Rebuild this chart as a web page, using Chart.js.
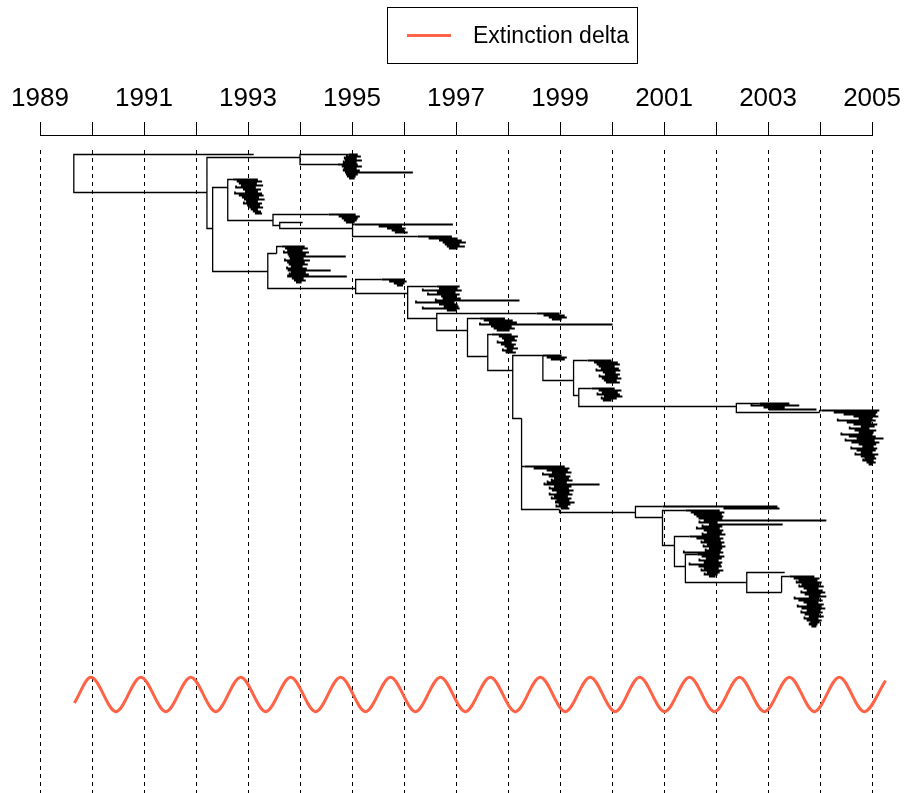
<!DOCTYPE html>
<html lang="en">
<head>
<meta charset="UTF-8">
<title>Dated tree with extinction delta</title>
<script src="https://cdn.jsdelivr.net/npm/chart.js@4.4.1/dist/chart.umd.min.js"></script>
<style>
  html, body { margin: 0; padding: 0; background: #fff; }
  canvas { display: block; }
</style>
</head>
<body>
<canvas id="treeChart" width="909" height="793"></canvas>
<script>
// Time axis: a tick every year, a label every other year
const yearTicks = [1989, 1990, 1991, 1992, 1993, 1994, 1995, 1996, 1997, 1998, 1999, 2000, 2001, 2002, 2003, 2004, 2005];
const labelledYears = [1989, 1991, 1993, 1995, 1997, 1999, 2001, 2003, 2005];

// Extinction delta: turning points of the oscillation
const deltaYears = [1989.66, 1989.98, 1990.46, 1990.94, 1991.42, 1991.90, 1992.38, 1992.86, 1993.34, 1993.82,
  1994.30, 1994.78, 1995.26, 1995.74, 1996.22, 1996.70, 1997.18, 1997.66, 1998.14, 1998.62, 1999.10, 1999.58,
  2000.06, 2000.53, 2001.01, 2001.49, 2001.97, 2002.45, 2002.93, 2003.41, 2003.89, 2004.37, 2004.85, 2005.26];
const deltaValues = [-0.5, 1, -1, 1, -1, 1, -1, 1, -1, 1, -1, 1, -1, 1, -1, 1, -1, 1, -1, 1, -1, 1,
  -1, 1, -1, 1, -1, 1, -1, 1, -1, 1, -1, 0.8];

// Internal nodes and lone tips: [id, parent, year, row]
const backbone = [
  ['root', null, 1989.65, 9.5],
  ['t1993', 'root', 1993.11, 0],
  ['A', 'root', 1992.21, 19],
  ['B', 'A', 1994.00, 1.5],
  ['C', 'A', 1992.32, 37],
  ['D', 'C', 1992.61, 16.5],
  ['F', 'D', 1993.48, 33],
  ['G', 'F', 1993.61, 35.5],
  ['t1994', 'G', 1994.05, 34],
  ['H', 'G', 1995.01, 37],
  ['I0', 'C', 1993.38, 58.5],
  ['I1', 'I0', 1993.55, 49.5],
  ['J', 'I0', 1995.07, 67],
  ['L', 'J', 1996.07, 69.5],
  ['M', 'L', 1996.63, 82],
  ['O', 'M', 1997.22, 88],
  ['Q0', 'O', 1997.61, 101],
  ['Q1', 'Q0', 1998.09, 108],
  ['S', 'Q1', 1998.67, 100.5],
  ['R', 'S', 1999.26, 113],
  ['R2', 'R', 1999.36, 120.5],
  ['U', 'R2', 2002.39, 126],
  ['W', 'U', 2003.99, 129],
  ['Y0', 'Q1', 1998.26, 132],
  ['Y1', 'Y0', 1998.99, 177.5],
  ['Z', 'Y1', 2000.45, 179],
  ['AA', 'Z', 2000.97, 181.5],
  ['AB', 'AA', 2001.20, 195.5],
  ['AC', 'AB', 2001.41, 206],
  ['CC', 'AC', 2002.59, 214],
  ['t2003', 'CC', 2003.32, 209],
  ['DD', 'CC', 2003.26, 219]
];

// Sampled clades, one tip per row: [branch year, tip year]
const tipsB1 = [[1994.94, 1995.11], [1994.90, 1995.17], [1994.86, 1995.09], [1994.88, 1995.19], [1994.84, 1995.09]];
const tipsB2 = [[1994.73, 1995.11], [1994.82, 1995.19], [1994.86, 1995.09], [1994.84, 1995.15], [1994.88, 1996.17],
  [1994.90, 1995.11], [1994.92, 1995.07], [1994.96, 1995.05]];
const tipsD = [[1992.71, 1993.19], [1992.80, 1993.27], [1992.84, 1993.17], [1992.88, 1993.29], [1992.77, 1993.15],
  [1992.92, 1993.25], [1992.96, 1993.19], [1992.75, 1993.27], [1992.84, 1993.30], [1992.90, 1993.21],
  [1992.94, 1993.32], [1992.98, 1993.19], [1992.92, 1993.27], [1993.00, 1993.23], [1993.04, 1993.29],
  [1993.07, 1993.19], [1993.11, 1993.25], [1993.15, 1993.27]];
const tipsE = [[1994.55, 1995.07], [1994.76, 1995.15], [1994.82, 1995.11], [1994.86, 1995.09], [1994.90, 1995.05]];
const tipsG = [[1995.05, 1996.94], [1995.53, 1995.96], [1995.69, 1996.03], [1995.78, 1996.00], [1995.84, 1996.07]];
const tipsH = [[1996.26, 1996.92], [1996.49, 1997.03], [1996.69, 1997.11], [1996.76, 1997.19], [1996.80, 1997.07],
  [1996.84, 1997.17], [1996.88, 1997.03]];
const tipsI = [[1993.65, 1994.09], [1993.73, 1994.15], [1993.77, 1994.05], [1993.69, 1994.17], [1993.78, 1994.11],
  [1993.80, 1994.88], [1993.82, 1994.07], [1993.71, 1994.19], [1993.77, 1994.09], [1993.80, 1994.15],
  [1993.84, 1994.05], [1993.75, 1994.13], [1993.78, 1994.59], [1993.84, 1994.11], [1993.80, 1994.17],
  [1993.77, 1994.90], [1993.86, 1994.07], [1993.90, 1994.11], [1993.94, 1994.03]];
const tipsK = [[1995.57, 1996.00], [1995.73, 1996.05], [1995.82, 1996.01], [1995.88, 1995.98]];
const tipsM = [[1996.63, 1997.07], [1996.69, 1997.03], [1996.36, 1997.11], [1996.65, 1996.99], [1996.46, 1997.07],
  [1996.73, 1997.01], [1996.76, 1997.09], [1996.61, 1998.22], [1996.23, 1996.97], [1996.69, 1997.03],
  [1996.78, 1997.05], [1996.36, 1997.07], [1996.84, 1997.01]];
const tipsN = [[1998.55, 1998.99], [1998.70, 1999.09], [1998.80, 1999.13], [1998.86, 1999.03]];
const tipsP = [[1997.46, 1997.94], [1997.55, 1998.09], [1997.65, 1998.17], [1997.46, 2000.01], [1997.69, 1998.07],
  [1997.74, 1998.13], [1997.80, 1998.03]];
const tipsQ = [[1997.69, 1998.07], [1997.84, 1998.19], [1997.90, 1998.13], [1997.94, 1998.17], [1997.80, 1998.07],
  [1997.88, 1998.15], [1997.95, 1998.11], [1997.99, 1998.19], [1997.90, 1998.09], [1997.97, 1998.15]];
const tipsS1 = [[1998.67, 1999.03], [1998.76, 1999.13], [1998.84, 1999.09]];
const tipsS = [[1999.53, 1999.99], [1999.67, 2000.11], [1999.72, 2000.15], [1999.76, 2000.05], [1999.80, 2000.13],
  [1999.70, 2000.16], [1999.84, 2000.07], [1999.88, 2000.15], [1999.76, 2000.11], [1999.82, 2000.18],
  [1999.86, 2000.09], [1999.90, 2000.15]];
const tipsT = [[1999.61, 2000.05], [1999.76, 2000.18], [1999.82, 2000.11], [1999.72, 2000.15], [1999.86, 2000.20],
  [1999.80, 2000.09], [1999.84, 1999.99]];
const tipsV = [[2002.84, 2003.41], [2002.68, 2003.60], [2002.93, 2003.32], [2003.03, 2003.93]];
const tipsX = [[2004.03, 2005.14], [2004.28, 2005.10], [2004.47, 2005.07], [2004.66, 2005.12], [2004.76, 2005.01],
  [2004.34, 2005.07], [2004.53, 2004.99], [2004.66, 2005.10], [2004.80, 2005.05], [2004.57, 2004.95],
  [2004.68, 2005.08], [2004.76, 2005.03], [2004.41, 2005.01], [2004.57, 2005.07], [2004.72, 2005.22],
  [2004.49, 2005.05], [2004.62, 2005.14], [2004.76, 2005.08], [2004.83, 2005.03], [2004.60, 2005.10],
  [2004.72, 2005.07], [2004.80, 2005.01], [2004.68, 2005.12], [2004.80, 2005.05], [2004.87, 2005.08],
  [2004.83, 2005.03], [2004.91, 2005.07], [2004.95, 2005.01]];
const tipsY = [[1998.32, 1999.09], [1998.51, 1999.18], [1998.76, 1999.15], [1998.86, 1999.22], [1998.67, 1999.11],
  [1998.80, 1999.20], [1998.90, 1999.17], [1998.84, 1999.24], [1998.76, 1999.13], [1998.70, 1999.76],
  [1998.90, 1999.22], [1998.80, 1999.17], [1998.86, 1999.26], [1998.95, 1999.18], [1998.80, 1999.24],
  [1998.90, 1999.15], [1998.84, 1999.22], [1998.95, 1999.18], [1998.92, 1999.28], [1998.99, 1999.20],
  [1998.93, 1999.15], [1999.03, 1999.18]];
const tipsZ = [[2000.97, 2003.18], [2002.16, 2003.22]];
const tipsBBa = [[2001.41, 2002.07], [2001.53, 2002.16], [2001.59, 2002.11], [2001.64, 2002.14], [2001.68, 2002.12],
  [2001.78, 2004.12], [2001.68, 2002.03], [2001.88, 2003.28], [2001.74, 2002.12], [2001.63, 2002.07],
  [2001.78, 2002.14], [2001.84, 2002.11], [2001.74, 2002.18]];
const tipsBBb = [[2001.49, 2002.07], [2001.64, 2002.14], [2001.78, 2002.09], [2001.72, 2002.16], [2001.84, 2002.11],
  [2001.76, 2002.18], [2001.88, 2002.12], [2001.80, 2002.09], [2001.38, 2002.14]];
const tipsBBc = [[2001.64, 2002.07], [2001.74, 2002.16], [2001.82, 2002.11], [2001.68, 2002.05], [2001.78, 2002.12],
  [2001.49, 2002.09], [2001.68, 2002.11], [2001.78, 2002.05], [2001.72, 2002.14], [2001.84, 2002.07],
  [2001.78, 2002.03], [2001.88, 2001.99]];
const tipsEE = [[2003.41, 2003.89], [2003.51, 2003.99], [2003.60, 2003.95], [2003.55, 2004.03], [2003.66, 2003.99],
  [2003.60, 2004.07], [2003.70, 2003.97], [2003.76, 2004.05], [2003.64, 2004.10], [2003.72, 2004.01],
  [2003.80, 2004.12], [2003.51, 2003.99], [2003.60, 2004.05], [2003.70, 2003.97], [2003.76, 2004.07],
  [2003.57, 2004.03], [2003.66, 2004.10], [2003.76, 2004.01], [2003.64, 2004.05], [2003.72, 2003.99],
  [2003.80, 2004.07], [2003.70, 2003.97], [2003.76, 2004.03], [2003.83, 2003.99], [2003.80, 2003.95],
  [2003.85, 2003.93]];

// Where each clade hangs: [parent node, row of its first tip, tips]
const cladeAnchors = [
  ['B', 0, tipsB1], ['B', 5, tipsB2], ['D', 12.5, tipsD], ['F', 30, tipsE], ['H', 35, tipsG],
  ['H', 41, tipsH], ['I1', 46, tipsI], ['J', 62.5, tipsK], ['L', 66, tipsM], ['M', 79.5, tipsN],
  ['O', 82, tipsP], ['Q0', 90, tipsQ], ['S', 100.5, tipsS1], ['R', 103, tipsS], ['R2', 117, tipsT],
  ['U', 124.5, tipsV], ['W', 128, tipsX], ['Y0', 156, tipsY], ['Z', 176, tipsZ], ['AA', 178, tipsBBa],
  ['AB', 191, tipsBBb], ['AC', 200, tipsBBc], ['DD', 211, tipsEE]
];

// Rectangular tree: every edge is a vertical at the parent's date, then a horizontal to the child
const nodes = {};
backbone.forEach(n => { nodes[n[0]] = n; });
const gap = () => ({ x: null, y: null });
const stemPoints = [];
const tipPoints = [];

backbone.forEach(([id, parent, year, row]) => {
  if (!parent) return;
  const p = nodes[parent];
  stemPoints.push({ x: p[2], y: p[3] }, { x: p[2], y: row }, { x: year, y: row }, gap());
});

cladeAnchors.forEach(([parent, firstRow, tips]) => {
  const p = nodes[parent];
  tips.forEach(([branch, tip], i) => {
    const row = firstRow + i;
    if (i === 0) {
      // the stem into the clade runs along its first tip
      stemPoints.push({ x: p[2], y: p[3] }, { x: p[2], y: row }, { x: branch, y: row }, gap());
      tipPoints.push({ x: branch, y: row }, { x: tip, y: row }, gap());
    } else {
      tipPoints.push({ x: branch, y: row - 1 }, { x: branch, y: row }, { x: tip, y: row }, gap());
    }
  });
});

const deltaPoints = deltaYears.map((yr, i) => ({ x: yr, y: deltaValues[i] }));

// Dashed year lines below the time axis
const yearLines = {
  id: 'yearLines',
  beforeDatasetsDraw(chart) {
    const { ctx, chartArea, scales } = chart;
    ctx.save();
    ctx.strokeStyle = '#000';
    ctx.lineWidth = 1;
    ctx.setLineDash([4, 4]);
    ctx.beginPath();
    yearTicks.forEach(yr => {
      const px = Math.round(scales.x.getPixelForValue(yr)) + 0.5;
      ctx.moveTo(px, chartArea.top + 15);
      ctx.lineTo(px, chartArea.bottom);
    });
    ctx.stroke();
    ctx.restore();
  }
};

// Boxed legend at the top
const boxedLegend = {
  id: 'boxedLegend',
  afterDraw(chart) {
    const { ctx } = chart;
    const ds = chart.data.datasets[2];
    ctx.save();
    ctx.strokeStyle = '#000';
    ctx.lineWidth = 1;
    ctx.strokeRect(387.5, 7.5, 250, 56);
    ctx.strokeStyle = ds.borderColor;
    ctx.lineWidth = 3;
    ctx.beginPath();
    ctx.moveTo(407, 35.5);
    ctx.lineTo(451, 35.5);
    ctx.stroke();
    ctx.fillStyle = '#000';
    ctx.font = '23px "Liberation Sans", Arial, sans-serif';
    ctx.textBaseline = 'middle';
    ctx.fillText(ds.label, 473, 37);
    ctx.restore();
  }
};

Chart.defaults.font.family = '"Liberation Sans", Arial, sans-serif';
Chart.defaults.color = '#000';

const treeLine = {
  showLine: true,
  spanGaps: false,
  borderColor: '#000',
  pointRadius: 0,
  tension: 0,
  clip: false,
  yAxisID: 'y'
};

new Chart(document.getElementById('treeChart'), {
  type: 'scatter',
  data: {
    datasets: [
      { ...treeLine, label: 'Branches', data: stemPoints, borderWidth: 1.3 },
      { ...treeLine, label: 'Tips', data: tipPoints, borderWidth: 1.8 },
      {
        label: 'Extinction delta',
        data: deltaPoints,
        showLine: true,
        borderColor: '#ff6347',
        borderWidth: 3,
        pointRadius: 0,
        cubicInterpolationMode: 'monotone',
        clip: false,
        yAxisID: 'yDelta'
      }
    ]
  },
  options: {
    responsive: false,
    animation: false,
    events: [],
    layout: { padding: { left: 40, right: 36, top: 0, bottom: 0 } },
    plugins: {
      legend: { display: false },
      tooltip: { enabled: false }
    },
    scales: {
      x: {
        type: 'linear',
        position: 'top',
        min: 1989,
        max: 2005,
        afterFit: scale => { scale.height = 135; },
        afterBuildTicks: scale => { scale.ticks = yearTicks.map(v => ({ value: v })); },
        ticks: {
          autoSkip: false,
          maxRotation: 0,
          padding: 8,
          font: { size: 26 },
          color: '#000',
          callback: v => (labelledYears.includes(v) ? String(v) : '')
        },
        grid: {
          drawOnChartArea: false,
          drawTicks: true,
          tickLength: 13,
          color: '#000',
          lineWidth: 1
        },
        border: { display: true, color: '#000', width: 1 }
      },
      y: {
        type: 'linear',
        display: false,
        reverse: true,
        min: -9.75,
        max: 319.25
      },
      yDelta: {
        type: 'linear',
        display: false,
        min: -5.73,
        max: 32.53
      }
    }
  },
  plugins: [yearLines, boxedLegend]
});
</script>
</body>
</html>
